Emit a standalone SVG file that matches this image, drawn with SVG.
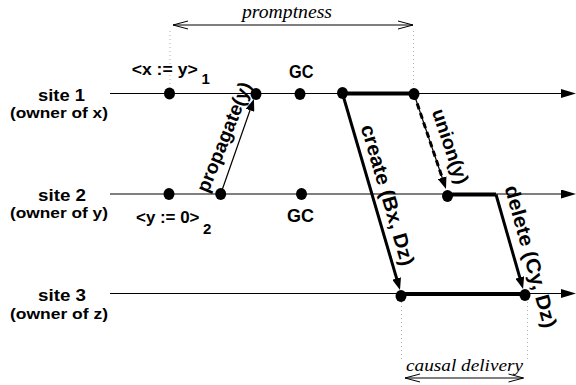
<svg xmlns="http://www.w3.org/2000/svg" width="576" height="385" viewBox="0 0 576 385">
<style>
.lbl{font-family:"Liberation Sans",Arial,sans-serif;font-weight:bold;fill:#000}
.it{font-family:"Liberation Serif","Times New Roman",serif;font-style:italic;fill:#000}
.site{stroke:#000;stroke-width:1.2;fill:none}
.thick{stroke:#000;stroke-width:4;fill:none}
.msg{stroke:#000;stroke-width:3;fill:none}
.thin{stroke:#000;stroke-width:1.2;fill:none}
.dot{fill:#000}
.guide{stroke:#b0b0b0;stroke-width:1;stroke-dasharray:1 3;fill:none}
.span{stroke:#000;stroke-width:1;fill:none}
</style>
<defs>
<marker id="ah" markerUnits="userSpaceOnUse" markerWidth="12" markerHeight="9" refX="7" refY="4.5" orient="auto" viewBox="0 0 12 9">
<path d="M0,0 L12,4.5 L0,9 z" fill="#000"/>
</marker>
<marker id="axis" markerUnits="userSpaceOnUse" markerWidth="15" markerHeight="9" refX="4" refY="4.5" orient="auto" viewBox="0 0 15 9">
<path d="M0,0 L15,4.5 L0,9 z" fill="#000"/>
</marker>
<marker id="open" markerUnits="userSpaceOnUse" markerWidth="17" markerHeight="10" refX="15.5" refY="5" orient="auto-start-reverse" viewBox="0 0 17 10">
<path d="M0.5,1 L15.5,5 L0.5,9" fill="none" stroke="#000" stroke-width="1"/>
</marker>
</defs>

<g id="timelines">
<g id="site1">
<line class="site" x1="110" y1="93.5" x2="565" y2="93.5" marker-end="url(#axis)"/>
<text class="lbl" x="38" y="101" font-size="17" textLength="47" lengthAdjust="spacingAndGlyphs">site 1</text>
<text class="lbl" x="10" y="118" font-size="15.5" textLength="98" lengthAdjust="spacingAndGlyphs">(owner of x)</text>
</g>
<g id="site2">
<line class="site" x1="110" y1="194" x2="565" y2="194" marker-end="url(#axis)"/>
<text class="lbl" x="38" y="201" font-size="17" textLength="48" lengthAdjust="spacingAndGlyphs">site 2</text>
<text class="lbl" x="10" y="218" font-size="15.5" textLength="98" lengthAdjust="spacingAndGlyphs">(owner of y)</text>
</g>
<g id="site3">
<line class="site" x1="110" y1="293.5" x2="565" y2="293.5" marker-end="url(#axis)"/>
<text class="lbl" x="38" y="301" font-size="17" textLength="48" lengthAdjust="spacingAndGlyphs">site 3</text>
<text class="lbl" x="10" y="318.5" font-size="15.5" textLength="98" lengthAdjust="spacingAndGlyphs">(owner of z)</text>
</g>
</g>

<g id="connectors">
<line class="thick" x1="342.5" y1="93.5" x2="414" y2="93.5"/>
<line class="thick" x1="447.5" y1="194.5" x2="496" y2="194.5"/>
<line class="thick" x1="401" y1="294" x2="525" y2="294"/>
<line class="msg" x1="342.5" y1="93.5" x2="398.6" y2="285.2" marker-end="url(#ah)"/>
<line class="msg" x1="496" y1="194.5" x2="521.7" y2="284.2" marker-end="url(#ah)"/>
<line class="thin" x1="414" y1="94" x2="444.4" y2="184.3" marker-end="url(#ah)"/>
<line stroke="#000" stroke-width="3" stroke-dasharray="6 4" x1="414" y1="94" x2="443" y2="180"/>
<line class="thin" x1="220.7" y1="194" x2="252.3" y2="103.7" marker-end="url(#ah)"/>
<line class="guide" x1="170" y1="31" x2="170" y2="87"/>
<line class="guide" x1="413.5" y1="31" x2="413.5" y2="87"/>
<line class="guide" x1="401.5" y1="302" x2="401.5" y2="360"/>
<line class="guide" x1="527.5" y1="302" x2="527.5" y2="360"/>
<line class="span" x1="173" y1="25" x2="413" y2="25" marker-start="url(#open)" marker-end="url(#open)"/>
<line class="span" x1="405" y1="378" x2="523.5" y2="378" marker-start="url(#open)" marker-end="url(#open)"/>
</g>

<g id="events">
<ellipse class="dot" cx="169.5" cy="93.5" rx="5.5" ry="6"/>
<ellipse class="dot" cx="256" cy="94" rx="5.5" ry="6"/>
<ellipse class="dot" cx="300" cy="94" rx="5.5" ry="6"/>
<ellipse class="dot" cx="342.5" cy="93" rx="5.5" ry="6"/>
<ellipse class="dot" cx="414" cy="94" rx="5.5" ry="6"/>
<ellipse class="dot" cx="169" cy="194" rx="5.5" ry="6"/>
<ellipse class="dot" cx="220.7" cy="194" rx="5.5" ry="6"/>
<ellipse class="dot" cx="301.5" cy="194" rx="5.5" ry="6"/>
<ellipse class="dot" cx="447.5" cy="196" rx="5.5" ry="6"/>
<ellipse class="dot" cx="401" cy="296" rx="5.5" ry="6"/>
<ellipse class="dot" cx="525" cy="295" rx="5.5" ry="6"/>
</g>

<g id="labels">
<text class="lbl" x="131.7" y="75" font-size="17"><tspan textLength="66" lengthAdjust="spacingAndGlyphs">&lt;x := y&gt;</tspan><tspan x="201.5" y="83.5" font-size="15">1</tspan></text>
<text class="lbl" x="289" y="77.7" font-size="18" textLength="24.5" lengthAdjust="spacingAndGlyphs">GC</text>
<text class="lbl" x="136" y="223" font-size="17"><tspan textLength="63.5" lengthAdjust="spacingAndGlyphs">&lt;y := 0&gt;</tspan><tspan x="203" y="233.5" font-size="15">2</tspan></text>
<text class="lbl" x="287" y="221.7" font-size="18" textLength="27" lengthAdjust="spacingAndGlyphs">GC</text>
<text class="lbl" font-size="19" text-anchor="middle" textLength="117" lengthAdjust="spacingAndGlyphs" transform="translate(230,139.5) rotate(-68)">propagate(y)</text>
<text class="lbl" font-size="20" text-anchor="middle" textLength="146" lengthAdjust="spacingAndGlyphs" transform="translate(381.2,196.9) rotate(73.6)">create (Bx, Dz)</text>
<text class="lbl" font-size="19" text-anchor="middle" textLength="78" lengthAdjust="spacingAndGlyphs" transform="translate(444.2,148.5) rotate(71.2)">union(y)</text>
<text class="lbl" font-size="20" text-anchor="middle" textLength="147" lengthAdjust="spacingAndGlyphs" transform="translate(524.2,258.3) rotate(74.4)">delete (Cy, Dz)</text>
<text class="it" x="242" y="18" font-size="18" textLength="90" lengthAdjust="spacingAndGlyphs">promptness</text>
<text class="it" x="406" y="370.5" font-size="17" textLength="117" lengthAdjust="spacingAndGlyphs">causal delivery</text>
</g>
</svg>
